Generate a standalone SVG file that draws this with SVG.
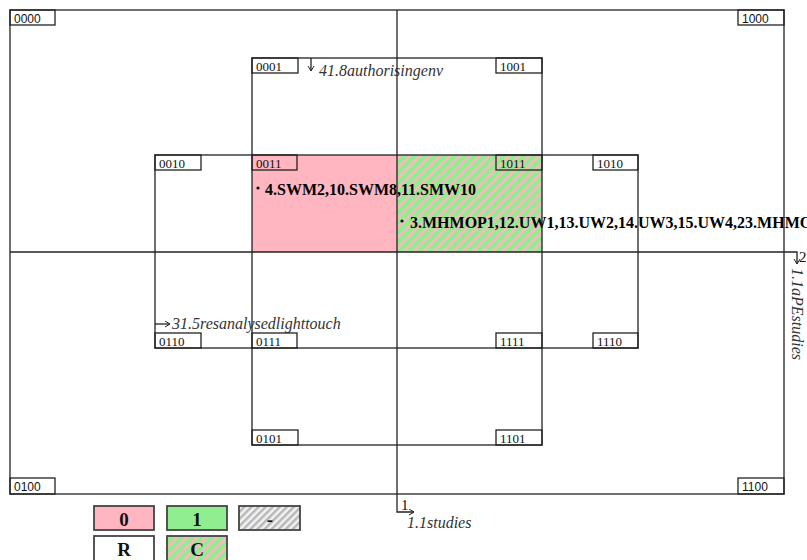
<svg xmlns="http://www.w3.org/2000/svg" width="807" height="560" viewBox="0 0 807 560">
<style>
.ln{fill:none;stroke:#222;stroke-width:1.3}
.lb{fill:none;stroke:#222;stroke-width:1.3}
.lt{font-family:"Liberation Serif",serif;font-size:13px;fill:#111}
.ls{font-family:"Liberation Sans",sans-serif;font-size:12px;fill:#111}
.it{font-family:"Liberation Serif",serif;font-style:italic;font-size:16px;fill:#333}
.bd{font-family:"Liberation Serif",serif;font-weight:bold;font-size:16px;fill:#000}
.lg{stroke:#444;stroke-width:1.8}
.lgt{font-family:"Liberation Serif",serif;font-weight:bold;font-size:19px;fill:#111;text-anchor:middle}
.nm{font-family:"Liberation Serif",serif;font-size:15px;fill:#111}
</style>
<defs>
<pattern id="hc" patternUnits="userSpaceOnUse" width="7" height="7" patternTransform="rotate(45)">
<rect width="7" height="7" fill="#90EE90"/>
<rect width="2.6" height="7" fill="#FFB6C1"/>
</pattern>
<pattern id="hg" patternUnits="userSpaceOnUse" width="5" height="5" patternTransform="rotate(45)">
<rect width="5" height="5" fill="#f2f2f2"/>
<rect width="2.5" height="5" fill="#b8b8b8"/>
</pattern>
<marker id="ah" markerWidth="8" markerHeight="8" refX="6" refY="3.5" orient="auto" markerUnits="userSpaceOnUse">
<path d="M1,0.5 L6,3.5 L1,6.5" fill="none" stroke="#222" stroke-width="1"/>
</marker>
</defs>
<rect width="807" height="560" fill="#fff"/>

<g id="cells">
<rect x="252" y="155" width="145" height="97" fill="#FFB6C1"/>
<rect x="397" y="155" width="145" height="97" fill="url(#hc)"/>
</g>

<g id="texts">
<circle cx="258" cy="188" r="1.6" fill="#000"/>
<text class="bd" x="265" y="195">4.SWM2,10.SWM8,11.SMW10</text>
<circle cx="402" cy="221" r="1.6" fill="#000"/>
<text class="bd" x="410" y="228">3.MHMOP1,12.UW1,13.UW2,14.UW3,15.UW4,23.MHMO</text>
<text class="it" x="319" y="76">41.8authorisingenv</text>
<text class="it" x="172" y="329">31.5resanalysedlighttouch</text>
<text class="it" x="407" y="528">1.1studies</text>
<text class="it" transform="translate(792,268) rotate(90)">1.1aPEstudies</text>
<text class="nm" x="799" y="262">2</text>
<text class="nm" x="401" y="510">1</text>
</g>

<g id="regions">
<rect class="ln" x="10" y="10" width="774" height="484"/>
<rect class="ln" x="252" y="58" width="290" height="387"/>
<rect class="ln" x="155" y="155" width="483" height="193"/>
</g>

<g id="connectors">
<path class="ln" d="M397,10 L397,512 L414,512" marker-end="url(#ah)"/>
<path class="ln" d="M10,252 L797,252 L797,264" marker-end="url(#ah)"/>
<path class="ln" d="M311,58 L311,71" marker-end="url(#ah)"/>
<path class="ln" d="M155,324 L170,324" marker-end="url(#ah)"/>
</g>

<g id="labels">
<g id="n0000"><rect class="lb" x="10" y="10" width="45" height="15"/><text class="ls" x="14" y="23">0000</text></g>
<g id="n1000"><rect class="lb" x="738" y="10" width="46" height="15"/><text class="ls" x="742" y="23">1000</text></g>
<g id="n0001"><rect class="lb" x="252" y="58" width="46" height="15"/><text class="lt" x="256" y="71">0001</text></g>
<g id="n1001"><rect class="lb" x="496" y="58" width="46" height="15"/><text class="lt" x="500" y="71">1001</text></g>
<g id="n0010"><rect class="lb" x="155" y="155" width="46" height="15"/><text class="lt" x="159" y="168">0010</text></g>
<g id="n0011"><rect class="lb" x="252" y="155" width="45" height="15"/><text class="lt" x="256" y="168">0011</text></g>
<g id="n1011"><rect class="lb" x="496" y="155" width="46" height="15"/><text class="lt" x="500" y="168">1011</text></g>
<g id="n1010"><rect class="lb" x="593" y="155" width="45" height="15"/><text class="lt" x="597" y="168">1010</text></g>
<g id="n0110"><rect class="lb" x="155" y="333" width="46" height="15"/><text class="lt" x="159" y="346">0110</text></g>
<g id="n0111"><rect class="lb" x="252" y="333" width="45" height="15"/><text class="lt" x="256" y="346">0111</text></g>
<g id="n1111"><rect class="lb" x="496" y="333" width="46" height="15"/><text class="lt" x="500" y="346">1111</text></g>
<g id="n1110"><rect class="lb" x="593" y="333" width="45" height="15"/><text class="lt" x="597" y="346">1110</text></g>
<g id="n0101"><rect class="lb" x="252" y="430" width="46" height="15"/><text class="lt" x="256" y="443">0101</text></g>
<g id="n1101"><rect class="lb" x="496" y="430" width="46" height="15"/><text class="lt" x="500" y="443">1101</text></g>
<g id="n0100"><rect class="lb" x="10" y="478" width="45" height="16"/><text class="ls" x="14" y="491">0100</text></g>
<g id="n1100"><rect class="lb" x="738" y="478" width="46" height="16"/><text class="ls" x="742" y="491">1100</text></g>
</g>

<g id="legend">
<g id="lg0"><rect class="lg" x="94" y="506" width="60" height="24" fill="#FFB6C1"/><text class="lgt" x="124" y="526">0</text></g>
<g id="lg1"><rect class="lg" x="167" y="506" width="60" height="24" fill="#90EE90"/><text class="lgt" x="197" y="526">1</text></g>
<g id="lgd"><rect class="lg" x="239" y="506" width="61" height="24" fill="url(#hg)"/><text class="lgt" x="270" y="526">-</text></g>
<g id="lgR"><rect class="lg" x="94" y="536" width="60" height="28" fill="#fff"/><text class="lgt" x="124" y="556">R</text></g>
<g id="lgC"><rect class="lg" x="167" y="536" width="60" height="28" fill="url(#hc)"/><text class="lgt" x="197" y="556">C</text></g>
</g>
</svg>
